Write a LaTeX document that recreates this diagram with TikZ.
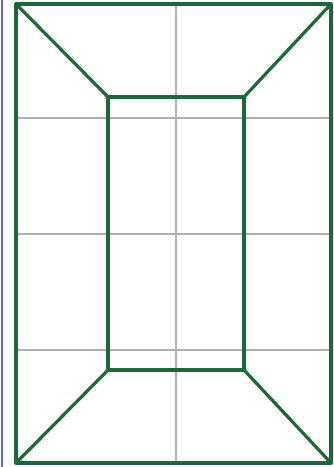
\documentclass[tikz,border=0pt]{standalone}
\definecolor{fgreen}{RGB}{28,104,58}
\definecolor{lgray}{RGB}{175,175,175}
\definecolor{lblue}{RGB}{100,100,210}
\begin{document}
\begin{tikzpicture}[x=1pt,y=-1pt,
  gridline/.style={draw=lgray,line width=1.9pt},
  frame/.style={draw=fgreen,line width=3.2pt,line join=round}]
\useasboundingbox (0,0) rectangle (334,467);
\fill[white] (0,0) rectangle (334,467);
\draw[lblue,line width=1.8pt] (2,0) -- (2,467);
% grid
\coordinate (gl1) at (16,118); \coordinate (gr1) at (331,118);
\coordinate (gl2) at (16,234); \coordinate (gr2) at (331,234);
\coordinate (gl3) at (16,350); \coordinate (gr3) at (331,350);
\coordinate (gt) at (176,4); \coordinate (gb) at (176,463);
\draw[gridline] (gl1) -- (gr1);
\draw[gridline] (gl2) -- (gr2);
\draw[gridline] (gl3) -- (gr3);
\draw[gridline] (gt) -- (gb);
% outer and inner
\coordinate (o1) at (16,4); \coordinate (o2) at (331,4);
\coordinate (o3) at (331,463); \coordinate (o4) at (16,463);
\coordinate (i1) at (108,97); \coordinate (i2) at (244,97);
\coordinate (i3) at (244,370); \coordinate (i4) at (108,370);
\draw[frame] (o1) -- (o2) -- (o3) -- (o4) -- cycle;
\draw[frame] (i1) -- (i2) -- (i3) -- (i4) -- cycle;
\draw[frame] (o1) -- (i1);
\draw[frame] (o2) -- (i2);
\draw[frame] (o3) -- (i3);
\draw[frame] (o4) -- (i4);
\end{tikzpicture}
\end{document}
